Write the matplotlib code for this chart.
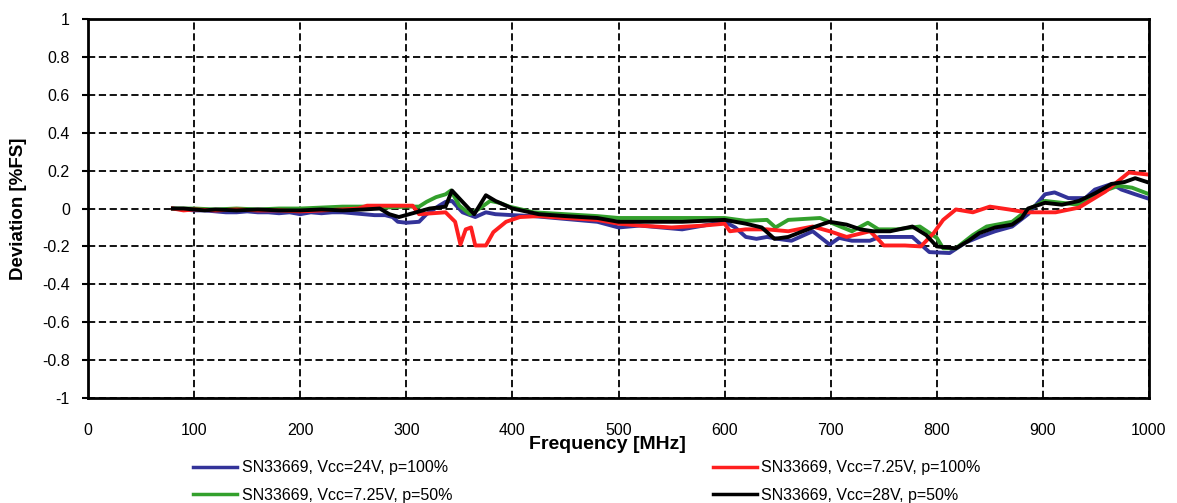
import matplotlib
matplotlib.use("Agg")
import matplotlib.pyplot as plt

plt.rcParams['font.family'] = ['Liberation Sans', 'DejaVu Sans']

# SN33669, Vcc=24V, p=100%
freq_blue = [80, 90, 100, 110, 120, 130, 140, 150, 160, 170, 180, 190, 200, 210, 220, 230, 240, 250,
             260, 270, 280, 287, 292, 300, 312, 319, 331, 337, 343, 353, 365, 375, 384, 400, 420, 440,
             460, 480, 500, 520, 540, 560, 580, 600, 610, 620, 630, 640, 650, 663, 683, 699, 708, 720,
             737, 746, 762, 777, 793, 812, 827, 840, 855, 871, 886, 902, 911, 924, 940, 949, 965, 974,
             987, 998]
dev_blue = [0, -0.005, -0.01, -0.01, -0.015, -0.02, -0.02, -0.015, -0.02, -0.02, -0.025, -0.02, -0.03,
            -0.02, -0.025, -0.02, -0.02, -0.025, -0.03, -0.035, -0.035, -0.045, -0.07, -0.075, -0.07,
            -0.03, 0.015, 0.035, 0.04, -0.02, -0.045, -0.02, -0.03, -0.035, -0.04, -0.05, -0.06, -0.07,
            -0.1, -0.09, -0.1, -0.11, -0.09, -0.07, -0.1, -0.15, -0.16, -0.15, -0.16, -0.17, -0.12,
            -0.19, -0.155, -0.17, -0.17, -0.15, -0.15, -0.15, -0.23, -0.235, -0.18, -0.15, -0.12,
            -0.095, -0.03, 0.075, 0.085, 0.055, 0.055, 0.1, 0.13, 0.1, 0.075, 0.055]

# SN33669, Vcc=7.25V, p=100%
freq_red = [80, 90, 100, 120, 140, 160, 180, 200, 220, 240, 255, 263, 280, 306, 312, 337, 346, 351,
            356, 361, 365, 375, 382, 394, 407, 425, 450, 480, 500, 520, 550, 580, 600, 605, 620, 640,
            660, 683, 699, 715, 737, 746, 750, 770, 785, 797, 806, 818, 834, 850, 868, 884, 912, 934,
            959, 981, 998]
dev_red = [0, -0.01, -0.005, -0.01, -0.005, -0.01, -0.01, -0.015, -0.01, -0.005, 0, 0.015, 0.015,
           0.015, -0.03, -0.02, -0.07, -0.19, -0.11, -0.10, -0.195, -0.195, -0.125, -0.07, -0.045,
           -0.04, -0.05, -0.06, -0.08, -0.09, -0.1, -0.09, -0.08, -0.12, -0.11, -0.11, -0.12, -0.095,
           -0.12, -0.15, -0.12, -0.17, -0.195, -0.195, -0.2, -0.13, -0.06, -0.005, -0.02, 0.01,
           -0.005, -0.02, -0.02, 0.005, 0.09, 0.19, 0.18]

# SN33669, Vcc=7.25V, p=50%
freq_green = [80, 100, 120, 140, 160, 180, 200, 220, 240, 260, 280, 300, 312, 319, 328, 337, 342,
              350, 360, 369, 379, 388, 397, 420, 450, 480, 500, 530, 560, 600, 620, 640, 648, 660,
              690, 709, 720, 735, 745, 762, 784, 800, 806, 818, 834, 847, 871, 886, 902, 918, 934,
              949, 971, 984, 998]
dev_green = [0, 0, -0.005, 0, -0.005, 0, 0, 0.005, 0.01, 0.01, 0.005, 0.01, 0.01, 0.035, 0.06,
             0.075, 0.095, 0.015, -0.03, 0, 0.04, 0.03, 0.01, -0.02, -0.03, -0.04, -0.05, -0.05,
             -0.05, -0.05, -0.065, -0.06, -0.1, -0.06, -0.05, -0.095, -0.12, -0.075, -0.11, -0.11,
             -0.095, -0.155, -0.21, -0.21, -0.14, -0.095, -0.07, -0.005, 0.04, 0.03, 0.02, 0.075,
             0.12, 0.11, 0.08]

# SN33669, Vcc=28V, p=50%
freq_black = [80, 90, 100, 110, 120, 140, 160, 180, 200, 220, 240, 260, 275, 284, 293, 306, 322,
              337, 343, 353, 364, 375, 384, 400, 425, 450, 480, 500, 530, 560, 600, 610, 620, 635,
              647, 660, 683, 699, 715, 728, 740, 756, 777, 790, 800, 818, 830, 840, 855, 871, 880,
              886, 902, 918, 934, 949, 965, 977, 987, 998]
dev_black = [0, 0, -0.005, -0.01, -0.005, -0.01, -0.005, -0.01, -0.01, -0.005, -0.01, -0.005, 0,
             -0.03, -0.045, -0.025, 0, 0.01, 0.095, 0.035, -0.03, 0.07, 0.04, 0, -0.03, -0.04,
             -0.05, -0.07, -0.07, -0.07, -0.06, -0.07, -0.08, -0.1, -0.16, -0.15, -0.1, -0.07,
             -0.085, -0.11, -0.12, -0.12, -0.095, -0.14, -0.2, -0.21, -0.17, -0.13, -0.1, -0.085,
             -0.05, 0, 0.03, 0.02, 0.04, 0.08, 0.13, 0.14, 0.16, 0.14]

x_ticks = list(range(0, 1001, 100))
y_ticks = [-1, -0.8, -0.6, -0.4, -0.2, 0, 0.2, 0.4, 0.6, 0.8, 1]
y_labels = ['-1', '-0.8', '-0.6', '-0.4', '-0.2', '0', '0.2', '0.4', '0.6', '0.8', '1']

fig = plt.figure(figsize=(11.77, 5.03), dpi=100)
ax = fig.add_axes([0.0748, 0.2087, 0.9014, 0.7535])

lw = 2.8
ax.plot(freq_blue, dev_blue, color='#333399', lw=lw, label='SN33669, Vcc=24V, p=100%')
ax.plot(freq_green, dev_green, color='#33a02c', lw=lw, label='SN33669, Vcc=7.25V, p=50%')
ax.plot(freq_red, dev_red, color='#ff1f1f', lw=lw, label='SN33669, Vcc=7.25V, p=100%')
ax.plot(freq_black, dev_black, color='black', lw=lw, label='SN33669, Vcc=28V, p=50%')

ax.set_xlim(0, 1000)
ax.set_ylim(-1, 1)
ax.set_xticks(x_ticks)
ax.set_yticks(y_ticks)
ax.set_yticklabels(y_labels)
ax.grid(True, color='black', ls=(0, (4, 2)), lw=1.3)
ax.set_axisbelow(True)
for s in ax.spines.values():
    s.set_linewidth(2)
ax.tick_params(axis='y', length=4, width=1.5, pad=9, labelsize=11.5)
ax.tick_params(axis='x', length=0, pad=18, labelsize=11.5)

ax.set_xlabel('Frequency [MHz]', fontsize=14, fontweight='bold')
ax.xaxis.set_label_coords(0.4895, -0.1)
ax.set_ylabel('Deviation [%FS]', fontsize=13.5, fontweight='bold')
ax.yaxis.set_label_coords(-0.058, 0.5)

fig.legend(loc='upper left', bbox_to_anchor=(0.164, 0.085), ncol=2, frameon=False,
           fontsize=11.5, handlelength=2.75, columnspacing=16.3, labelspacing=0.8,
           handletextpad=0.3, borderaxespad=0, borderpad=0)
for line in fig.legends[0].get_lines():
    line.set_linewidth(2.5)

fig.savefig('out.png', dpi=100)
